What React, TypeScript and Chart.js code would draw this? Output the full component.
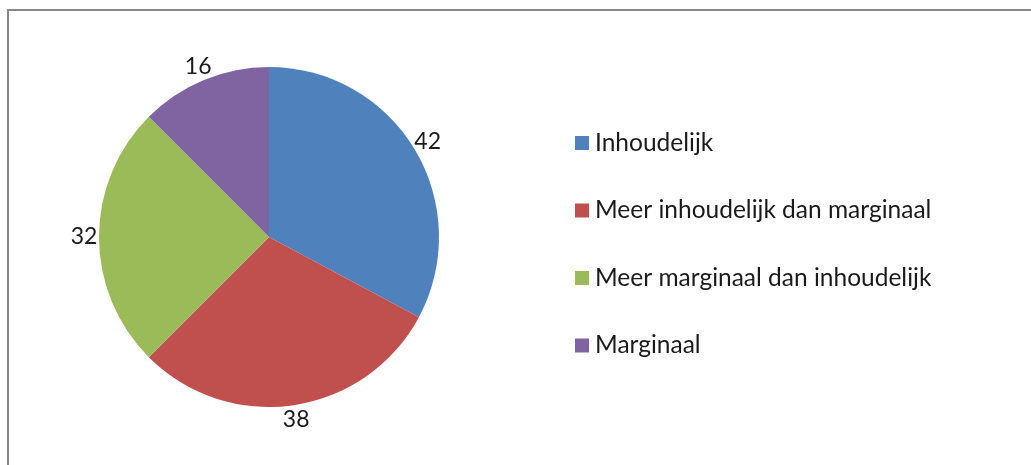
import React, { useEffect, useRef } from "react";
import { Chart, registerables } from "chart.js";

Chart.register(...registerables);

const categories = [
  "Inhoudelijk",
  "Meer inhoudelijk dan marginaal",
  "Meer marginaal dan inhoudelijk",
  "Marginaal",
];
const values = [42, 38, 32, 16];
const colors = ["#4F81BD", "#C0504D", "#9BBB59", "#8064A2"];

const FONT_FAMILY = "Lato, 'Noto Sans', sans-serif";
const TEXT_COLOR = "#1a1a1a";

const framePlugin = {
  id: "frame",
  beforeDraw(chart: any) {
    const ctx = chart.ctx;
    ctx.save();
    ctx.fillStyle = "#ffffff";
    ctx.fillRect(0, 0, chart.width, chart.height);
    ctx.fillStyle = "#878787";
    ctx.fillRect(7, 9, chart.width, 2);
    ctx.fillRect(7, 9, 2, chart.height);
    ctx.restore();
  },
};

const valueLabelPlugin = {
  id: "valueLabels",
  afterDatasetsDraw(chart: any) {
    const ctx = chart.ctx;
    const meta = chart.getDatasetMeta(0);
    ctx.save();
    ctx.font = `23px ${FONT_FAMILY}`;
    ctx.fillStyle = TEXT_COLOR;
    ctx.textAlign = "center";
    ctx.textBaseline = "middle";
    meta.data.forEach((arc: any, i: number) => {
      const p = arc.getProps(["x", "y", "startAngle", "endAngle", "outerRadius"], true);
      const mid = (p.startAngle + p.endAngle) / 2;
      const d = p.outerRadius + 15;
      ctx.fillText(String(values[i]), p.x + Math.cos(mid) * d, p.y + Math.sin(mid) * d);
    });
    ctx.restore();
  },
};

const legendPlugin = {
  id: "sideLegend",
  afterDraw(chart: any) {
    const ctx = chart.ctx;
    ctx.save();
    ctx.font = `24.5px ${FONT_FAMILY}`;
    ctx.textBaseline = "middle";
    ctx.textAlign = "left";
    categories.forEach((label, i) => {
      const cy = 143 + i * 67.5;
      ctx.fillStyle = colors[i];
      ctx.fillRect(575, cy - 7, 14, 14);
      ctx.fillStyle = TEXT_COLOR;
      ctx.fillText(label, 595, cy);
    });
    ctx.restore();
  },
};

export default function App() {
  const canvasRef = useRef<HTMLCanvasElement | null>(null);

  useEffect(() => {
    if (!canvasRef.current) return;
    const chart = new Chart(canvasRef.current, {
      type: "pie",
      data: {
        labels: categories,
        datasets: [
          {
            data: values,
            backgroundColor: colors,
            borderWidth: 0,
          },
        ],
      },
      options: {
        responsive: false,
        animation: false,
        devicePixelRatio: 1,
        layout: { padding: { left: 99, right: 592, top: 67, bottom: 58 } },
        plugins: {
          legend: { display: false },
          tooltip: { enabled: false },
        },
      },
      plugins: [framePlugin, valueLabelPlugin, legendPlugin],
    });
    return () => chart.destroy();
  }, []);

  return (
    <div style={{ position: "absolute", left: 0, top: 0, width: 1031, height: 465 }}>
      <canvas ref={canvasRef} width={1031} height={465} />
    </div>
  );
}
